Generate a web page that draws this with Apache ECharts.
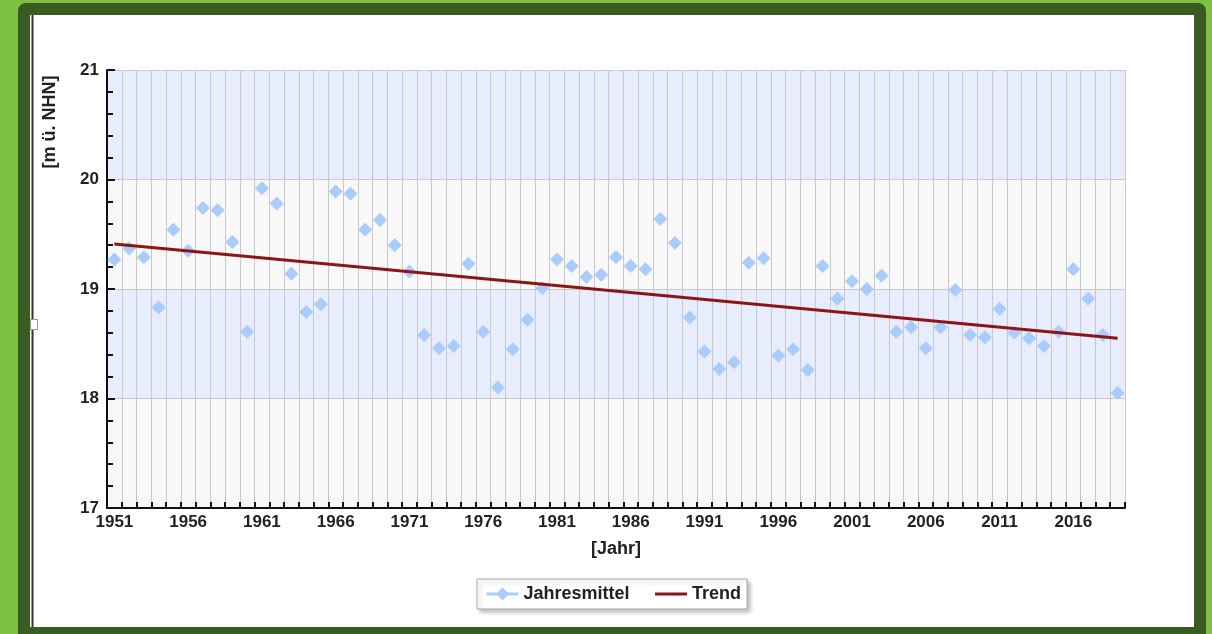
<!DOCTYPE html>
<html>
<head>
<meta charset="utf-8">
<script src="https://cdn.jsdelivr.net/npm/echarts@6/dist/echarts.min.js"></script>
<style>
  html, body { margin: 0; padding: 0; width: 1212px; height: 634px; overflow: hidden; background: #7cc142; }
  #outer { position: absolute; left: 18px; top: 3px; width: 1188px; height: 650px; background: #3a5c22; border-radius: 8px; }
  #inner { position: absolute; left: 30px; top: 15px; width: 1164px; height: 612px; background: #ffffff; }
  #vline { position: absolute; left: 31px; top: 15px; width: 3px; height: 612px; background: #9a9a9a; }
  #vline2 { position: absolute; left: 32px; top: 15px; width: 1px; height: 612px; background: #333333; }
  #handle { position: absolute; left: 30px; top: 319px; width: 6px; height: 9px; background: #ffffff; border: 1px solid #999; }
  #chart { position: absolute; left: 0; top: 0; width: 1212px; height: 634px; }
</style>
</head>
<body>
<div id="outer"></div>
<div id="inner"></div>
<div id="vline"></div>
<div id="vline2"></div>
<div id="handle"></div>
<div id="chart"></div>
<script>
const years = ['1951','1952','1953','1954','1955','1956','1957','1958','1959','1960',
  '1961','1962','1963','1964','1965','1966','1967','1968','1969','1970',
  '1971','1972','1973','1974','1975','1976','1977','1978','1979','1980',
  '1981','1982','1983','1984','1985','1986','1987','1988','1989','1990',
  '1991','1992','1993','1994','1995','1996','1997','1998','1999','2000',
  '2001','2002','2003','2004','2005','2006','2007','2008','2009','2010',
  '2011','2012','2013','2014','2015','2016','2017','2018','2019'];

const jahresmittel = [19.27,19.37,19.29,18.83,19.54,19.35,19.74,19.72,19.43,18.61,
  19.92,19.78,19.14,18.79,18.86,19.89,19.87,19.54,19.63,19.40,
  19.16,18.58,18.46,18.48,19.23,18.61,18.10,18.45,18.72,19.01,
  19.27,19.21,19.11,19.13,19.29,19.21,19.18,19.64,19.42,18.74,
  18.43,18.27,18.33,19.24,19.28,18.39,18.45,18.26,19.21,18.91,
  19.07,19.00,19.12,18.61,18.65,18.46,18.65,18.99,18.58,18.56,
  18.82,18.60,18.55,18.48,18.61,19.18,18.91,18.58,18.05];

const trendYears = ['1951', '2019'];
const trendValues = [19.41, 18.55];

const yTicks = [17, 18, 19, 20, 21];

const FONT = '"Liberation Sans", Arial, sans-serif';
const chart = echarts.init(document.getElementById('chart'));
chart.setOption({
  animation: false,
  backgroundColor: 'transparent',
  grid: { left: 107, right: 87, top: 70, bottom: 126, containLabel: false },
  xAxis: {
    type: 'category',
    data: years,
    boundaryGap: true,
    name: '[Jahr]',
    nameLocation: 'middle',
    nameGap: 32,
    nameTextStyle: { fontFamily: FONT, fontWeight: 'bold', fontSize: 18, color: '#222' },
    axisLine: { show: true, lineStyle: { color: '#111', width: 2 } },
    axisTick: { show: true, inside: true, interval: 0, length: 6, lineStyle: { color: '#111', width: 2 } },
    axisLabel: { interval: 4, margin: 6, fontFamily: FONT, fontWeight: 'bold', fontSize: 17, color: '#222' },
    splitLine: { show: true, interval: 0, lineStyle: { color: '#c9c9c9', width: 1 } },
    splitArea: { show: false }
  },
  yAxis: {
    type: 'value',
    min: yTicks[0],
    max: yTicks[yTicks.length - 1],
    interval: 1,
    axisLine: { show: true, lineStyle: { color: '#111', width: 2 } },
    axisTick: { show: true, inside: true, length: 8, lineStyle: { color: '#111', width: 2 } },
    minorTick: { show: true, splitNumber: 5, length: 6, lineStyle: { color: '#111', width: 2 } },
    axisLabel: { margin: 8, fontFamily: FONT, fontWeight: 'bold', fontSize: 17, color: '#222' },
    splitLine: { show: true, lineStyle: { color: '#c9c9c9', width: 1 } },
    splitArea: { show: true, areaStyle: { color: ['#f8f8f8', '#e7edfc'] } }
  },
  legend: {
    left: 477,
    top: 579,
    orient: 'horizontal',
    padding: [6, 6, 6, 8],
    itemGap: 24,
    itemWidth: 32,
    itemHeight: 16,
    backgroundColor: '#ffffff',
    borderColor: '#a8a8a8',
    borderWidth: 1,
    shadowColor: 'rgba(0,0,0,0.25)',
    shadowBlur: 4,
    shadowOffsetX: 3,
    shadowOffsetY: 3,
    textStyle: { fontFamily: FONT, fontWeight: 'bold', fontSize: 18, color: '#222' },
    data: [
      { name: 'Jahresmittel', lineStyle: { width: 3, opacity: 1, color: '#aaccfa' }, itemStyle: { color: '#aaccfa' } },
      { name: 'Trend', itemStyle: { opacity: 0 }, lineStyle: { width: 3, color: '#8e1515' } }
    ]
  },
  graphic: [{
    type: 'text',
    x: 50, y: 122,
    rotation: Math.PI / 2,
    style: {
      text: '[m ü. NHN]',
      fontFamily: FONT, fontWeight: 'bold', fontSize: 18, fill: '#222',
      align: 'center', verticalAlign: 'middle'
    }
  }],
  series: [
    {
      name: 'Jahresmittel',
      type: 'line',
      data: jahresmittel,
      showSymbol: true,
      showAllSymbol: true,
      symbol: 'diamond',
      symbolSize: 14,
      itemStyle: { color: '#aaccfa' },
      lineStyle: { width: 0, opacity: 0, color: '#aaccfa' },
      z: 3
    },
    {
      name: 'Trend',
      type: 'line',
      data: [[trendYears[0], trendValues[0]], [trendYears[1], trendValues[1]]],
      showSymbol: false,
      symbol: 'none',
      itemStyle: { color: '#8e1515' },
      lineStyle: { color: '#8e1515', width: 3 },
      z: 4
    }
  ]
});
</script>
</body>
</html>
